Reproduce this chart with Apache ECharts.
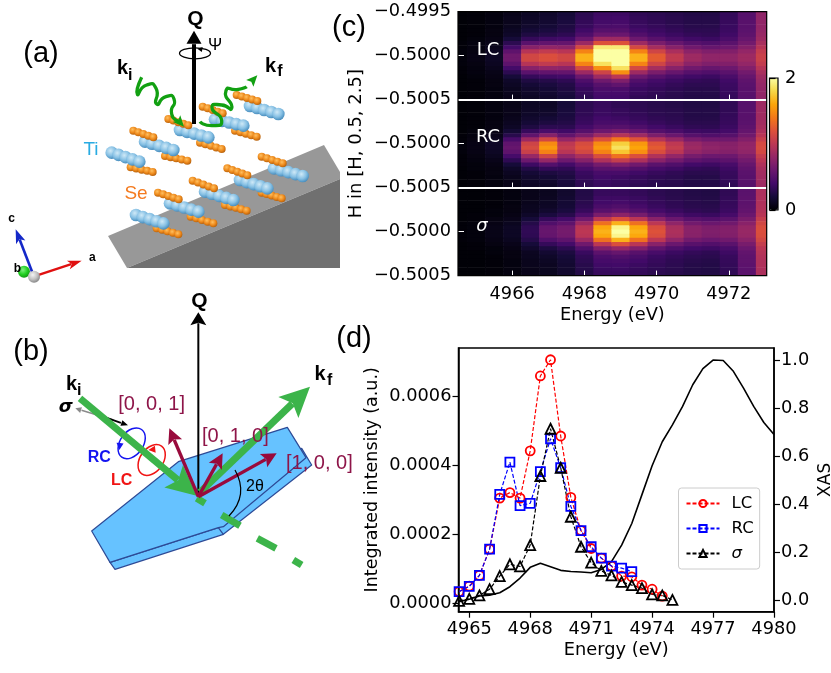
<!DOCTYPE html>
<html>
<head>
<meta charset="utf-8">
<title>TiSe2 RXS</title>
<script src="https://cdn.jsdelivr.net/npm/echarts@6/dist/echarts.min.js"></script>
<style>
  html, body { margin: 0; padding: 0; background: #fff; }
  #main { width: 831px; height: 673px; }
</style>
</head>
<body>
<div id="main"></div>
<script>
// panel (c): energies of the columns, H of the rows (top to bottom)
var mapEnergy = [4964.5, 4965, 4965.5, 4966, 4966.5, 4967, 4967.5, 4968, 4968.5, 4969, 4969.5, 4970, 4970.5, 4971, 4971.5, 4972, 4972.5, 4973];
var mapH = [-0.499524, -0.499571, -0.499619, -0.499667, -0.499714, -0.499762, -0.49981, -0.499857, -0.499905, -0.499952, -0.5, -0.500048, -0.500095, -0.500143, -0.50019, -0.500238, -0.500286, -0.500333, -0.500381, -0.500429, -0.500476];
// intensity x100, one line per energy column, top row first
var mapLC = [
  [1,1,1,1,1,1,1,2,2,3,3,3,3,2,2,1,1,1,1,1,1],
  [2,2,2,2,2,2,3,4,4,5,6,6,5,4,4,3,2,2,2,2,2],
  [4,4,4,4,5,5,6,7,9,11,12,12,11,9,7,6,5,5,4,4,4],
  [8,9,9,10,12,14,20,30,41,54,62,62,54,41,30,20,14,12,10,9,8],
  [12,13,14,16,19,24,34,52,74,97,112,112,97,74,52,34,24,19,16,14,12],
  [15,16,17,19,22,27,38,56,79,103,118,118,103,79,56,38,27,22,19,17,15],
  [20,21,22,24,26,31,40,57,77,98,112,112,98,77,57,40,31,26,24,22,20],
  [30,31,33,35,39,46,60,84,114,145,165,165,145,114,84,60,46,39,35,33,30],
  [38,39,41,44,50,60,85,120,190,200,200,200,185,150,110,85,62,50,45,42,40],
  [38,40,42,45,50,60,85,120,190,200,200,200,200,185,150,100,70,55,45,42,40],
  [32,33,35,37,41,48,61,85,114,145,165,165,145,114,85,61,48,41,37,35,32],
  [30,31,32,34,37,41,51,68,89,111,125,125,111,89,68,51,41,37,34,32,30],
  [28,29,29,31,33,37,44,58,74,91,102,102,91,74,58,44,37,33,31,29,28],
  [26,27,27,28,30,33,39,50,63,76,85,85,76,63,50,39,33,30,28,27,26],
  [26,27,27,28,30,32,37,47,58,70,78,78,70,58,47,37,32,30,28,27,26],
  [34,34,35,36,37,39,44,52,61,71,78,78,71,61,52,44,39,37,36,35,34],
  [50,50,51,51,52,54,58,64,72,80,85,85,80,72,64,58,54,52,51,51,50],
  [78,78,79,79,80,82,85,90,97,104,108,108,104,97,90,85,82,80,79,79,78]
];
var mapRC = [
  [1,1,1,1,1,1,1,1,2,2,3,3,3,2,2,2,1,1,1,1,1],
  [2,2,2,2,2,2,2,3,4,5,6,6,6,5,4,3,3,2,2,2,2],
  [4,4,4,4,4,5,5,6,8,10,13,13,12,10,8,6,5,5,4,4,4],
  [7,7,8,8,9,11,13,18,28,43,55,58,54,42,31,20,14,11,9,8,8],
  [12,12,13,14,16,19,24,35,55,84,110,115,107,82,61,38,26,19,16,14,13],
  [13,13,14,16,19,23,30,44,73,112,148,155,144,110,81,49,33,23,19,16,14],
  [20,20,21,22,23,26,30,39,56,80,101,105,98,78,61,41,32,26,23,22,21],
  [30,30,31,32,34,36,41,50,68,93,116,120,113,91,73,53,43,36,34,32,31],
  [35,35,36,37,40,43,49,61,85,119,149,155,145,117,93,65,52,43,40,37,36],
  [32,32,34,35,38,43,50,66,96,139,177,185,173,136,105,70,53,43,38,35,34],
  [30,30,31,33,35,39,46,59,85,121,154,160,150,118,92,63,48,39,35,33,31],
  [28,28,29,30,32,35,40,49,69,96,120,125,117,94,75,52,42,35,32,30,29],
  [27,27,28,29,30,32,36,44,60,82,101,105,99,80,64,47,38,32,30,29,28],
  [25,25,26,26,27,29,32,38,50,67,82,85,80,66,54,40,33,29,27,26,26],
  [25,25,26,26,27,29,31,37,47,62,75,78,74,61,50,38,32,29,27,26,26],
  [32,32,32,33,34,35,37,41,50,62,73,75,72,61,53,43,38,35,34,33,32],
  [50,50,50,51,51,52,54,57,63,71,79,80,78,70,64,58,54,52,51,51,50],
  [85,85,85,86,86,87,89,92,98,106,114,115,113,105,99,93,89,87,86,86,85]
];
var mapSigma = [
  [1,1,1,1,1,1,1,1,2,2,2,2,2,1,1,1,1,1,1,1,1],
  [1,1,1,1,1,1,2,2,3,3,3,3,3,2,2,1,1,1,1,1,1],
  [2,2,2,2,2,3,3,5,6,7,7,7,6,5,3,3,2,2,2,2,2],
  [4,4,4,4,5,5,6,8,10,12,12,12,10,8,6,5,5,4,4,4,4],
  [8,8,8,9,10,11,14,20,27,31,32,31,27,20,15,11,10,9,9,8,8],
  [10,10,11,12,13,16,22,34,47,57,58,57,47,34,23,17,14,12,11,10,10],
  [16,16,17,18,19,22,28,41,54,64,65,64,54,41,30,23,20,18,17,16,16],
  [26,26,27,29,31,35,45,63,84,98,100,98,84,63,47,36,32,30,28,27,26],
  [35,35,38,40,44,51,68,100,136,161,165,161,136,100,71,53,45,42,39,36,35],
  [35,35,38,42,47,55,76,118,165,195,200,195,165,118,81,58,48,43,40,37,35],
  [33,33,36,38,42,49,66,99,136,161,165,161,136,99,70,51,44,40,37,34,33],
  [30,30,32,34,36,41,52,75,100,117,120,117,100,75,55,43,37,35,33,31,30],
  [28,28,29,31,32,36,44,60,78,90,92,90,78,60,46,37,33,31,30,29,28],
  [26,26,27,28,29,32,38,51,64,74,75,74,64,51,40,33,30,28,27,26,26],
  [25,25,26,27,28,30,36,48,60,69,70,69,60,48,38,31,29,27,26,25,25],
  [32,32,33,34,35,37,42,52,63,71,72,71,63,52,43,38,35,34,33,32,32],
  [52,52,53,53,54,56,60,67,75,81,82,81,75,67,60,56,54,54,53,52,52],
  [92,92,93,93,94,95,98,105,112,117,118,117,112,105,99,96,94,93,93,92,92]
];

// panel (d)
var energy = [4964.5, 4965, 4965.5, 4966, 4966.5, 4967, 4967.5, 4968, 4968.5, 4969, 4969.5, 4970, 4970.5, 4971, 4971.5, 4972, 4972.5, 4973, 4973.5, 4974, 4974.5, 4975, 4975.5, 4976, 4976.5, 4977, 4977.5, 4978, 4978.5, 4979, 4979.5, 4980];
var intLC = [0.000035, 0.000051, 0.000082, 0.000158, 0.000306, 0.000322, 0.000306, 0.000443, 0.00066, 0.000707, 0.000486, 0.000308, 0.000212, 0.00016, 0.000132, 0.000109, 0.00008, 0.000078, 0.000054, 0.000042, 0.000022];
var intRC = [0.000035, 0.00005, 0.000082, 0.000158, 0.000317, 0.00041, 0.000284, 0.000291, 0.000383, 0.000478, 0.000394, 0.000282, 0.000212, 0.000165, 0.000132, 0.000109, 0.000103, 0.000093];
var intSigma = [0.000008, 0.000014, 0.000024, 0.000042, 0.00008, 0.000114, 0.000108, 0.00017, 0.00037, 0.000507, 0.000394, 0.000252, 0.000165, 0.000119, 0.000095, 0.000082, 0.000063, 0.000054, 0.000045, 0.000027, 0.000024, 0.000011];
var xas = [-0.005, 0.005, 0.018, 0.022, 0.032, 0.057, 0.093, 0.1375, 0.155, 0.14, 0.125, 0.12, 0.118, 0.115, 0.129, 0.161, 0.23, 0.32, 0.44, 0.56, 0.66, 0.73, 0.807, 0.897, 0.964, 1.0, 0.998, 0.953, 0.883, 0.807, 0.74, 0.69];

var energyTicksC = [4966, 4968, 4970, 4972];
var energyTicksD = [4965, 4968, 4971, 4974, 4977, 4980];
var intensityTicks = [0, 0.0002, 0.0004, 0.0006];
var xasTicks = [0, 0.2, 0.4, 0.6, 0.8, 1.0];
var inferno = ['#000004', '#160b39', '#420a68', '#6a176e', '#932667', '#bc3754', '#dd513a', '#f37819', '#fca50a', '#f6d746', '#fcffa4'];

var FONT = 'DejaVu Sans';
var SKETCH = 'Liberation Sans';
var TICK_SIZE = 17.8;

var myChart = echarts.init(document.getElementById('main'));

function cellData(columns) {
  var out = [];
  for (var c = 0; c < mapEnergy.length; c++) {
    for (var r = 0; r < mapH.length; r++) {
      out.push([mapEnergy[c], mapH[r], columns[c][r] / 100]);
    }
  }
  return out;
}

function drawCell(params, api) {
  var rowStep = 0.001 / 21;
  var p0 = api.coord([api.value(0) - 0.25, api.value(1) + rowStep / 2]);
  var p1 = api.coord([api.value(0) + 0.25, api.value(1) - rowStep / 2]);
  return {
    type: 'rect',
    shape: { x: p0[0], y: p0[1], width: p1[0] - p0[0] + 0.6, height: p1[1] - p0[1] + 0.6 },
    style: { fill: api.visual('color') }
  };
}

function mapSeries(index, columns) {
  return {
    type: 'custom',
    xAxisIndex: index,
    yAxisIndex: index,
    data: cellData(columns),
    encode: { x: 0, y: 1 },
    renderItem: drawCell,
    clip: true,
    silent: true
  };
}

function curve(xs, ys) {
  var out = [];
  for (var i = 0; i < ys.length; i++) {
    out.push([xs[i], ys[i]]);
  }
  return out;
}

function markerSeries(name, values, color, symbol, size) {
  return {
    name: name,
    type: 'line',
    xAxisIndex: 4,
    yAxisIndex: 4,
    data: curve(energy, values),
    symbol: symbol,
    symbolSize: size,
    showAllSymbol: true,
    lineStyle: { color: color, width: 1.2, type: [4, 2] },
    itemStyle: { color: 'rgba(255,255,255,0)', borderColor: color, borderWidth: 1.8 },
    emphasis: { disabled: true }
  };
}

function plainEnergy(v) { return String(v); }

// x axis of a map panel: white ticks inside, white separator below the upper two
function mapXAxis(index, last) {
  return {
    type: 'value',
    gridIndex: index,
    min: 4964.5,
    max: 4973.05,
    z: 5,
    position: 'bottom',
    name: last ? 'Energy (eV)' : '',
    nameLocation: 'middle',
    nameGap: 31,
    nameTextStyle: { fontSize: TICK_SIZE, color: '#000', fontFamily: FONT },
    axisLine: { show: !last, onZero: false, lineStyle: { color: '#fff', width: 2 } },
    splitLine: { show: false },
    axisTick: { show: true, inside: true, length: 5, customValues: energyTicksC, lineStyle: { color: '#fff', width: 1 } },
    axisLabel: { show: last, margin: 10, fontSize: TICK_SIZE, color: '#000', fontFamily: FONT, customValues: energyTicksC, formatter: plainEnergy }
  };
}

function mapYAxis(index, values, name) {
  return {
    type: 'value',
    gridIndex: index,
    min: -0.5005,
    max: -0.4995,
    z: 5,
    name: name || '',
    nameLocation: 'middle',
    nameRotate: 90,
    nameGap: 93,
    nameTextStyle: { fontSize: 18, color: '#000', fontFamily: FONT },
    axisLine: { show: false, onZero: false },
    splitLine: { show: false },
    axisTick: { show: true, inside: true, length: 6, customValues: values, lineStyle: { color: '#fff', width: 1 } },
    axisLabel: {
      margin: 7, fontSize: TICK_SIZE, color: '#000', fontFamily: FONT, customValues: values, padding: [7, 0, 0, 0],
      formatter: function (v) { return '\u2212' + Math.abs(v).toFixed(4); }
    }
  };
}

// ---- sketches of panels (a) and (b), drawn at 3x in the notes so scale down here
function A(x, y) { return [x / 3, y / 3]; }
function B(x, y) { return [x / 3, 285 + y / 3]; }

var sketch = [];

function poly(points, fill, stroke, width) {
  sketch.push({ type: 'polygon', z: 10, silent: true, shape: { points: points },
    style: { fill: fill, stroke: stroke || 'none', lineWidth: width || 0, lineJoin: 'round' } });
}
function line(points, color, width, smooth) {
  sketch.push({ type: 'polyline', z: 10, silent: true, shape: { points: points, smooth: smooth || 0 },
    style: { fill: 'none', stroke: color, lineWidth: width, lineCap: 'butt', lineJoin: 'round' } });
}
function text(str, p, size, color, bold, family, italic) {
  sketch.push({ type: 'text', z: 12, silent: true, style: {
    text: str, x: p[0], y: p[1], fill: color, fontSize: size, fontWeight: bold ? 'bold' : 'normal',
    fontStyle: italic ? 'italic' : 'normal', fontFamily: family || SKETCH, align: 'center', verticalAlign: 'middle'
  } });
}
function head(p, q, len, wid, color, notch) {
  var dx = q[0] - p[0], dy = q[1] - p[1];
  var d = Math.sqrt(dx * dx + dy * dy);
  var ux = dx / d, uy = dy / d;
  var bx = q[0] - ux * len, by = q[1] - uy * len;
  var nx = bx + ux * len * (notch || 0), ny = by + uy * len * (notch || 0);
  poly([q, [bx - uy * wid / 2, by + ux * wid / 2], [nx, ny], [bx + uy * wid / 2, by - ux * wid / 2]], color);
}
function arrow(p, q, width, len, wid, color, notch) {
  var dx = q[0] - p[0], dy = q[1] - p[1];
  var d = Math.sqrt(dx * dx + dy * dy);
  var back = len * (1 - (notch || 0)) + 0.5;
  line([p, [q[0] - dx / d * back, q[1] - dy / d * back]], color, width);
  head(p, q, len, wid, color, notch);
}
function ellipse(c, rx, ry, angle, color, width) {
  sketch.push({ type: 'ellipse', z: 10, silent: true, x: c[0], y: c[1], rotation: angle,
    shape: { cx: 0, cy: 0, rx: rx, ry: ry }, style: { fill: 'none', stroke: color, lineWidth: width } });
}
function atom(p, r, colors) {
  sketch.push({ type: 'circle', z: 10, silent: true, shape: { cx: p[0], cy: p[1], r: r }, style: {
    fill: { type: 'radial', x: 0.4, y: 0.35, r: 0.7, colorStops: [
      { offset: 0, color: colors[0] }, { offset: 0.55, color: colors[1] }, { offset: 1, color: colors[2] }] }
  } });
}
var TI = ['#cfe9f7', '#86c0e4', '#3f86b8'];
var SE = ['#ffc060', '#ee8a1c', '#b05c0a'];
function chain(x0, y0, x1, y1, n, r, colors) {
  for (var i = 0; i < n; i++) {
    var t = i / (n - 1);
    atom(A(x0 + (x1 - x0) * t, y0 + (y1 - y0) * t), r, colors);
  }
}
// lower Se chain, Ti chain, upper Se chain of one TiSe2 rod
function rod(se2, ti, se1) {
  if (se2) chain(se2[0], se2[1], se2[2], se2[3], 5, 4, SE);
  if (ti) chain(ti[0], ti[1], ti[2], ti[3], 5, 6.3, TI);
  if (se1) chain(se1[0], se1[1], se1[2], se1[3], 5, 4, SE);
}

// panel (a)
poly([[108, 236], [324, 145], [340, 172], [340, 179], [127, 268]], '#989898');
poly([[127, 268], [340, 179], [340, 268]], '#707070');

rod([470, 685, 535, 703], [408, 645, 490, 670], null);
rod([572, 650, 640, 670], [510, 610, 595, 635], [474, 578, 536, 598]);
rod([675, 615, 740, 632], [615, 575, 700, 600], [578, 542, 642, 565]);
rod([785, 578, 845, 595], [720, 540, 802, 565], [682, 505, 742, 526]);
rod(null, [822, 505, 908, 528], [785, 470, 848, 490]);
rod([392, 502, 458, 516], [335, 458, 418, 485], null);
rod([495, 468, 562, 482], [435, 425, 520, 450], [400, 392, 460, 412]);
rod([600, 428, 665, 447], [540, 390, 625, 412], [505, 357, 565, 376]);
rod([705, 392, 770, 410], [645, 358, 730, 377], [608, 320, 668, 340]);
rod(null, [750, 318, 835, 342], [710, 285, 772, 303]);

arrow(A(582, 372), A(582, 92), 4, 13, 15, '#000');
ellipse(A(585, 160), 15.5, 5.5, 0, '#000', 1.3);
head(A(615, 150), A(592, 146), 5, 5, '#000');
text('Q', A(586, 57), 21, '#000', true);
text('\u03a8', A(645, 135), 17, '#000');

line([A(425, 232), A(412, 283), A(440, 255), A(468, 265), A(470, 312), A(498, 290), A(522, 297), A(515, 342), A(535, 362)], '#12a012', 3.3, 0.8);
head(A(520, 345), A(552, 380), 11, 10, '#12a012', 0.2);
line([A(600, 365), A(640, 377), A(665, 362), A(636, 322), A(665, 315), A(695, 325), A(678, 272), A(715, 268), A(740, 260)], '#12a012', 3.3, 0.8);
head(A(738, 262), A(772, 226), 11, 10, '#12a012', 0.2);

text('k', A(368, 206), 20, '#000', true);
text('i', A(391, 226), 16, '#000', true);
text('k', A(812, 200), 20, '#000', true);
text('f', A(840, 214), 16, '#000', true);
text('Ti', A(273, 450), 19, '#29abe2');
text('Se', A(408, 582), 19, '#f47b20');

// crystal axes
arrow(A(100, 830), A(245, 782), 2.4, 14, 9, '#e01010', 0.25);
arrow(A(100, 825), A(47, 688), 2.6, 14, 10, '#1428c8', 0.25);
atom(A(72, 815), 6, ['#80f080', '#20d020', '#109010']);
atom(A(102, 830), 6, ['#f4f4f4', '#c0c0c0', '#808080']);
text('a', A(277, 773), 12, '#000', true);
text('b', A(52, 806), 12, '#000', true);
text('c', A(35, 655), 12, '#000', true);

// panel (b)
var NAVY = '#2d4a96';
poly([B(330, 832), B(345, 853), B(670, 748), B(935, 540), B(905, 490), B(655, 728)], '#66c2ff', NAVY, 1.2);
poly([B(275, 738), B(535, 530), B(862, 427), B(918, 518), B(670, 725), B(655, 728), B(330, 832)], '#66c2ff', NAVY, 1.2);
line([B(655, 728), B(670, 748)], NAVY, 1.2);

ellipse(B(395, 475), 17, 11.5, 0.95, '#1414f0', 1.5);
head(B(362, 455), B(358, 495), 7, 7, '#1414f0');
ellipse(B(455, 525), 17, 11.5, 0.95, '#f01414', 1.5);
head(B(490, 490), B(445, 495), 7, 7, '#f01414');
text('RC', B(298, 517), 16, '#1414f0', true);
text('LC', B(365, 587), 16, '#f01414', true);

arrow(B(340, 405), B(226, 370), 1.5, 6, 6, '#8a8a8a');
arrow(B(310, 395), B(384, 421), 1.8, 7, 6, '#000');
text('\u03c3', B(197, 366), 18, '#000', true, FONT, true);

var GREEN = '#3cb44a', WINE = '#990a3c';
line([B(590, 640), B(615, 655)], GREEN, 7);
line([B(665, 690), B(720, 722)], GREEN, 7);
line([B(772, 760), B(828, 790)], GREEN, 7);
line([B(880, 825), B(905, 840)], GREEN, 7);

arrow(B(595, 625), B(595, 82), 2, 13, 16, '#000', 0.2);
arrow(B(240, 340), B(590, 632), 7, 30, 29, GREEN, 0.2);
arrow(B(600, 622), B(930, 305), 7, 30, 29, GREEN, 0.2);
arrow(B(595, 635), B(508, 430), 3.4, 15, 15, WINE, 0.2);
arrow(B(595, 635), B(668, 505), 3.4, 15, 15, WINE, 0.2);
arrow(B(595, 635), B(830, 505), 3.4, 15, 15, WINE, 0.2);
sketch.push({ type: 'bezierCurve', z: 10, silent: true,
  shape: { x1: 235, y1: 470, x2: 229, y2: 516, cpx1: 249, cpy1: 495 },
  style: { fill: 'none', stroke: '#000', lineWidth: 1.2 } });

text('Q', B(598, 50), 21, '#000', true);
text('k', B(215, 298), 20, '#000', true);
text('i', B(238, 316), 16, '#000', true);
text('k', B(960, 268), 20, '#000', true);
text('f', B(989, 288), 16, '#000', true);
text('[0, 0, 1]', B(455, 357), 20, '#8e1549');
text('[0, 1, 0]', B(706, 455), 20, '#8e1549');
text('[1, 0, 0]', B(958, 535), 20, '#8e1549');
text('2\u03b8', B(765, 605), 16, '#000');

// panel letters and the labels sitting on the maps
text('(a)', [41, 54], 29, '#000');
text('(b)', [31, 352], 29, '#000');
text('(c)', [349, 28], 29, '#000');
text('(d)', [354, 339], 29, '#000');
text('LC', [488, 50], 18, '#fff', false, FONT);
text('RC', [488, 137], 18, '#fff', false, FONT);
text('\u03c3', [482, 226], 18, '#fff', false, FONT, true);

// frames of the map and of the colour bar
sketch.push({ type: 'rect', z: 11, silent: true, shape: { x: 458, y: 11.6, width: 308.7, height: 264 },
  style: { fill: 'none', stroke: '#000', lineWidth: 1.2 } });
sketch.push({ type: 'rect', z: 11, silent: true, shape: { x: 769.5, y: 78, width: 8.5, height: 132 },
  style: { fill: 'none', stroke: '#000', lineWidth: 1.2 } });

var option = {
  animation: false,
  backgroundColor: '#fff',
  textStyle: { fontFamily: FONT },
  grid: [
    { left: 458, top: 11.6, width: 308.7, height: 88, outerBoundsMode: 'none' },
    { left: 458, top: 99.6, width: 308.7, height: 88, outerBoundsMode: 'none' },
    { left: 458, top: 187.6, width: 308.7, height: 88, outerBoundsMode: 'none' },
    { left: 769.5, top: 78, width: 8.5, height: 132, outerBoundsMode: 'none' },
    { left: 458.5, top: 348, width: 315.5, height: 263.7, outerBoundsMode: 'none', show: true, borderColor: '#000', borderWidth: 1.5, backgroundColor: 'transparent' }
  ],
  xAxis: [
    mapXAxis(0, false),
    mapXAxis(1, false),
    mapXAxis(2, true),
    { type: 'value', gridIndex: 3, min: 0, max: 1, show: false },
    {
      type: 'value', gridIndex: 4, min: 4964.47, max: 4980, position: 'bottom',
      name: 'Energy (eV)', nameLocation: 'middle', nameGap: 30,
      nameTextStyle: { fontSize: TICK_SIZE, color: '#000', fontFamily: FONT },
      axisLine: { show: true, onZero: false, lineStyle: { color: '#000', width: 1.5 } },
      splitLine: { show: false },
      axisTick: { show: true, length: 6, customValues: energyTicksD, lineStyle: { color: '#000', width: 1.2 } },
      axisLabel: { margin: 9, fontSize: TICK_SIZE, color: '#000', fontFamily: FONT, customValues: energyTicksD, formatter: plainEnergy }
    }
  ],
  yAxis: [
    mapYAxis(0, [-0.5005, -0.5, -0.4995]),
    mapYAxis(1, [-0.5005, -0.5], 'H in [H, 0.5, 2.5]'),
    mapYAxis(2, [-0.5005, -0.5]),
    {
      type: 'value', gridIndex: 3, min: 0, max: 2, position: 'right', z: 12,
      axisLine: { show: false },
      splitLine: { show: false },
      axisTick: { show: true, length: 6, customValues: [0, 2], lineStyle: { color: '#000', width: 1.2 } },
      axisLabel: { margin: 7, fontSize: TICK_SIZE, color: '#000', fontFamily: FONT, customValues: [0, 2], padding: [6, 0, 0, 0] }
    },
    {
      type: 'value', gridIndex: 4, min: -0.0000232, max: 0.000741, position: 'left',
      name: 'Integrated intensity (a.u.)', nameLocation: 'middle', nameRotate: 90, nameGap: 77,
      nameTextStyle: { fontSize: 17.5, color: '#000', fontFamily: FONT },
      axisLine: { show: true, onZero: false, lineStyle: { color: '#000', width: 1.5 } },
      splitLine: { show: false },
      axisTick: { show: true, length: 6, customValues: intensityTicks, lineStyle: { color: '#000', width: 1.2 } },
      axisLabel: {
        margin: 7, fontSize: TICK_SIZE, color: '#000', fontFamily: FONT, customValues: intensityTicks, padding: [5, 0, 0, 0],
        formatter: function (v) { return v.toFixed(4); }
      }
    },
    {
      type: 'value', gridIndex: 4, min: -0.047, max: 1.05, position: 'right',
      name: 'XAS', nameLocation: 'middle', nameRotate: 90, nameGap: 43,
      nameTextStyle: { fontSize: 17, color: '#000', fontFamily: FONT },
      axisLine: { show: true, onZero: false, lineStyle: { color: '#000', width: 1.5 } },
      splitLine: { show: false },
      axisTick: { show: true, length: 6, customValues: xasTicks, lineStyle: { color: '#000', width: 1.2 } },
      axisLabel: {
        margin: 7, fontSize: TICK_SIZE, color: '#000', fontFamily: FONT, customValues: xasTicks, padding: [5, 0, 0, 0],
        formatter: function (v) { return v.toFixed(1); }
      }
    }
  ],
  visualMap: {
    type: 'continuous',
    seriesIndex: [0, 1, 2],
    dimension: 2,
    min: 0,
    max: 2,
    inRange: { color: inferno },
    calculable: false,
    realtime: false,
    hoverLink: false,
    text: null,
    left: 769.5,
    top: 78,
    itemWidth: 8.5,
    itemHeight: 132,
    padding: 0,
    z: 6
  },
  legend: {
    orient: 'vertical',
    left: 678.5,
    top: 488,
    padding: [7, 6, 7, 7],
    itemWidth: 33,
    itemHeight: 9,
    itemGap: 8,
    backgroundColor: '#fff',
    borderColor: '#ccc',
    borderWidth: 1,
    borderRadius: 3,
    textStyle: { fontSize: 16.5, color: '#000', fontFamily: FONT, padding: [0, 0, 0, 7] },
    selectedMode: false,
    data: [{ name: 'LC' }, { name: 'RC' }, { name: '\u03c3', textStyle: { fontStyle: 'italic' } }]
  },
  graphic: { elements: sketch },
  series: [
    mapSeries(0, mapLC),
    mapSeries(1, mapRC),
    mapSeries(2, mapSigma),
    markerSeries('LC', intLC, '#ff0000', 'circle', 9),
    markerSeries('RC', intRC, '#0000ff', 'rect', 9),
    markerSeries('\u03c3', intSigma, '#000', 'triangle', 10),
    {
      name: 'XAS',
      type: 'line',
      xAxisIndex: 4,
      yAxisIndex: 5,
      data: curve(energy, xas),
      symbol: 'none',
      lineStyle: { color: '#000', width: 1.6 },
      emphasis: { disabled: true }
    }
  ]
};

myChart.setOption(option);
</script>
</body>
</html>
